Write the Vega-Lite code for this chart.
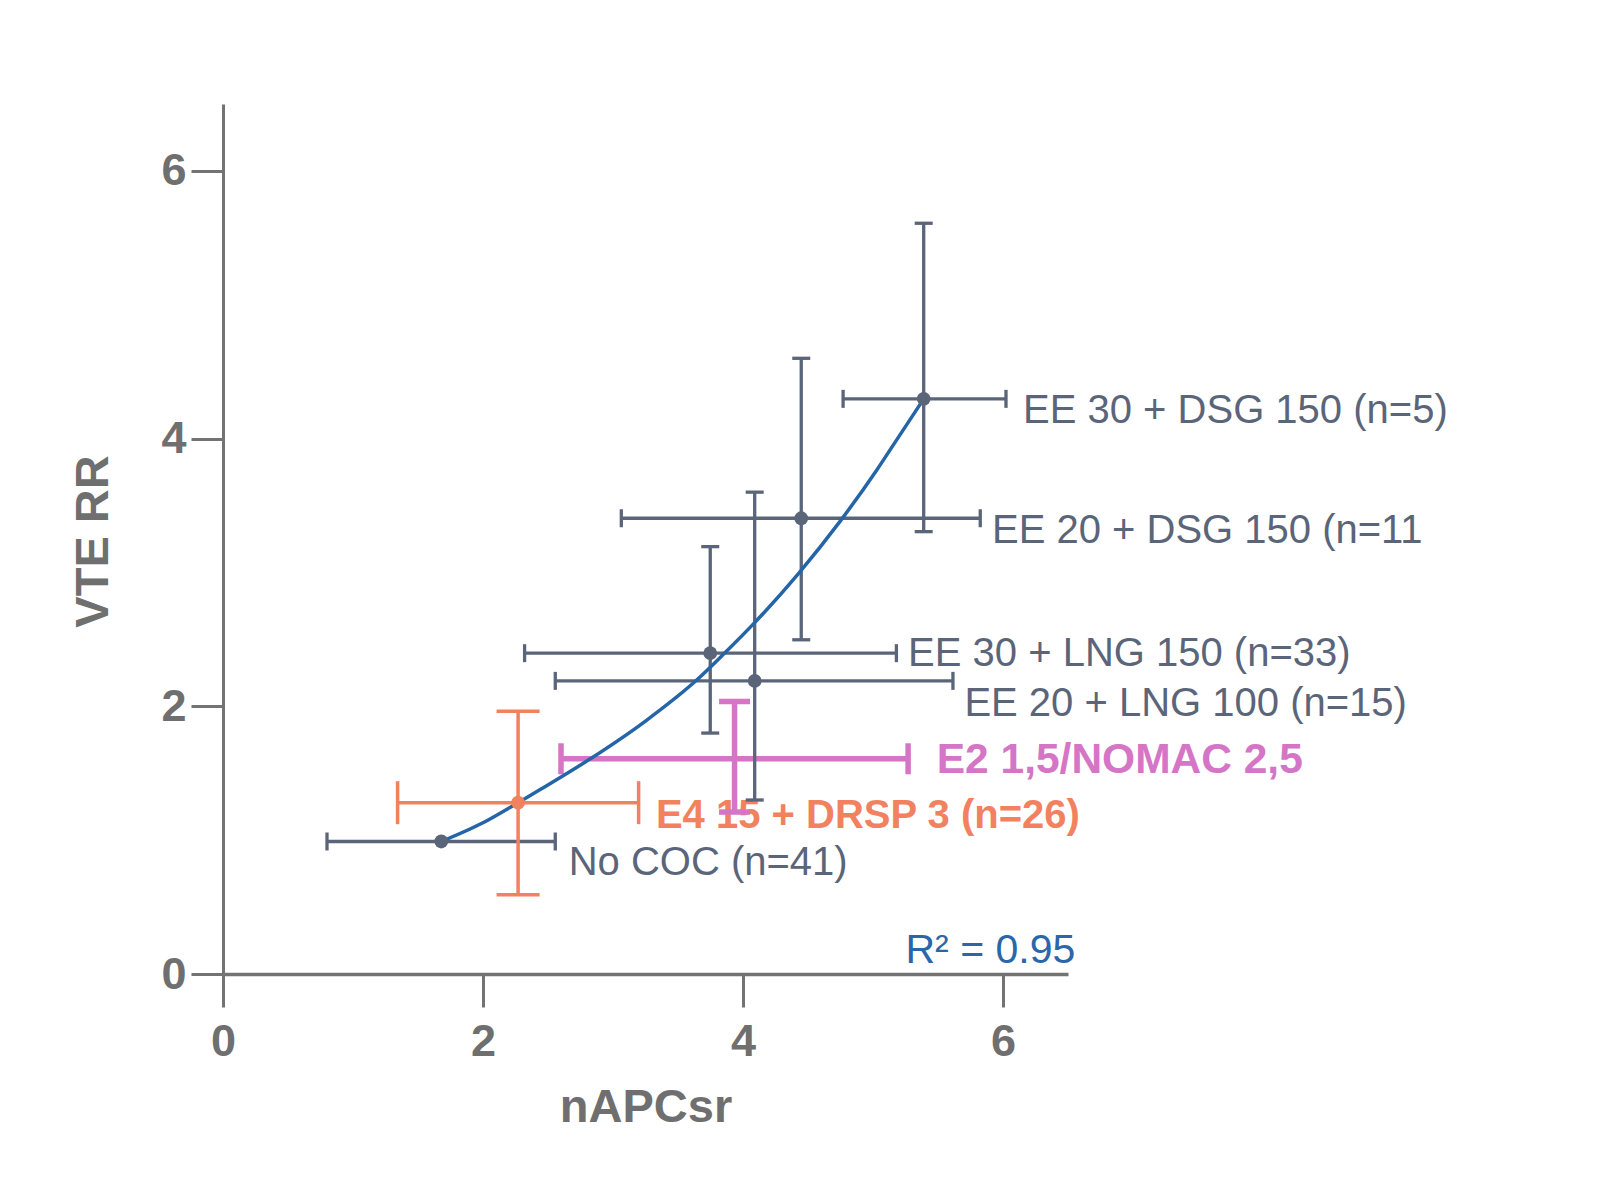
{
  "$schema": "https://vega.github.io/schema/vega-lite/v6.json",
  "width": 845,
  "height": 870,
  "autosize": "none",
  "padding": {"left": 223, "top": 104, "right": 553, "bottom": 211},
  "background": "white",
  "config": {
    "view": {"stroke": null},
    "font": "Liberation Sans",
    "axis": {
      "grid": false,
      "domainColor": "#737373",
      "tickColor": "#737373",
      "labelColor": "#6f6f6f",
      "titleColor": "#6f6f6f",
      "labelFont": "Liberation Sans",
      "titleFont": "Liberation Sans",
      "labelFontWeight": "bold",
      "titleFontWeight": "bold",
      "labelFontSize": 45,
      "titleFontSize": 47,
      "tickWidth": 3,
      "labelFlush": false,
      "labelOverlap": false
    },
    "axisX": {"domainWidth": 3.5, "tickSize": 33, "labelPadding": 12},
    "axisY": {"domainWidth": 3, "tickSize": 32, "labelPadding": 5}
  },
  "datasets": {
    "groups": [
      {"label": "No COC (n=41)", "group": "gray", "x": 1.679, "y": 0.99, "xlo": 0.80, "xhi": 2.556, "ylo": null, "yhi": null, "lx": 2.659, "ly": 0.742},
      {"label": "E4 15 + DRSP 3 (n=26)", "group": "orange", "x": 2.27, "y": 1.28, "xlo": 1.343, "xhi": 3.197, "ylo": 0.592, "yhi": 1.964, "lx": 3.33, "ly": 1.09},
      {"label": "E2 1,5/NOMAC 2,5", "group": "pink", "x": 3.935, "y": 1.608, "xlo": 2.60, "xhi": 5.27, "ylo": 1.21, "yhi": 2.036, "lx": 5.49, "ly": 1.50},
      {"label": "EE 20 + LNG 100 (n=15)", "group": "gray", "x": 4.09, "y": 2.19, "xlo": 2.556, "xhi": 5.615, "ylo": 1.30, "yhi": 3.60, "lx": 5.703, "ly": 1.925},
      {"label": "EE 30 + LNG 150 (n=33)", "group": "gray", "x": 3.748, "y": 2.397, "xlo": 2.32, "xhi": 5.18, "ylo": 1.80, "yhi": 3.193, "lx": 5.27, "ly": 2.302},
      {"label": "EE 20 + DSG 150 (n=11", "group": "gray", "x": 4.448, "y": 3.405, "xlo": 3.064, "xhi": 5.825, "ylo": 2.497, "yhi": 4.60, "lx": 5.915, "ly": 3.223},
      {"label": "EE 30 + DSG 150 (n=5)", "group": "gray", "x": 5.39, "y": 4.297, "xlo": 4.77, "xhi": 6.023, "ylo": 3.305, "yhi": 5.609, "lx": 6.154, "ly": 4.115}
    ],
    "curve": [
      {"x": 1.679, "y": 0.99},
      {"x": 2.0, "y": 1.13},
      {"x": 2.27, "y": 1.28},
      {"x": 2.44, "y": 1.378},
      {"x": 2.826, "y": 1.608},
      {"x": 3.25, "y": 1.89},
      {"x": 3.646, "y": 2.198},
      {"x": 3.851, "y": 2.39},
      {"x": 4.075, "y": 2.61},
      {"x": 4.425, "y": 2.99},
      {"x": 4.745, "y": 3.38},
      {"x": 5.032, "y": 3.77},
      {"x": 5.158, "y": 3.955},
      {"x": 5.39, "y": 4.297}
    ],
    "notes": [{"text": "R² = 0.95", "x": 6.556, "y": 0.082}]
  },
  "layer": [
    {
      "data": {"name": "groups"},
      "transform": [{"filter": "datum.group == 'orange'"}],
      "mark": {"type": "text", "align": "left", "baseline": "alphabetic", "fontWeight": "bold", "fontSize": 40, "font": "Liberation Sans", "color": "#f2815f"},
      "encoding": {
        "x": {"field": "lx", "type": "quantitative", "scale": {"domain": [0, 6.5], "nice": false, "zero": false},
          "axis": {"values": [0, 2, 4, 6], "format": "d", "title": "nAPCsr", "titleX": 422.5, "titleY": 147, "titleBaseline": "alphabetic", "titleAlign": "center"}},
        "y": {"field": "ly", "type": "quantitative", "scale": {"domain": [0, 6.5], "nice": false, "zero": false},
          "axis": {"values": [0, 2, 4, 6], "format": "d", "title": "VTE RR", "titleX": -116, "titleY": 437, "titleAngle": -90, "titleBaseline": "alphabetic", "titleAlign": "center"}},
        "text": {"field": "label", "type": "nominal"}
      }
    },
    {
      "data": {"name": "groups"},
      "transform": [{"filter": "datum.group == 'pink'"}],
      "mark": {"type": "text", "align": "left", "baseline": "alphabetic", "fontWeight": "bold", "fontSize": 42.5, "font": "Liberation Sans", "color": "#d575c6"},
      "encoding": {
        "x": {"field": "lx", "type": "quantitative", "title": "nAPCsr"},
        "y": {"field": "ly", "type": "quantitative", "title": "VTE RR"},
        "text": {"field": "label", "type": "nominal"}
      }
    },
    {
      "data": {"name": "groups"},
      "mark": {"type": "rule"},
      "encoding": {
        "x": {"field": "xlo", "type": "quantitative", "title": "nAPCsr"},
        "x2": {"field": "xhi"},
        "y": {"field": "y", "type": "quantitative", "title": "VTE RR"},
        "color": {"field": "group", "type": "nominal", "scale": {"domain": ["gray", "orange", "pink"], "range": ["#5b6579", "#f2815f", "#d575c6"]}, "legend": null},
        "strokeWidth": {"field": "group", "type": "nominal", "scale": {"type": "ordinal", "domain": ["gray", "orange", "pink"], "range": [3.3, 3.5, 5.5]}, "legend": null}
      }
    },
    {
      "data": {"name": "groups"},
      "transform": [{"filter": "datum.ylo != null"}],
      "mark": {"type": "rule"},
      "encoding": {
        "x": {"field": "x", "type": "quantitative", "title": "nAPCsr"},
        "y": {"field": "ylo", "type": "quantitative", "title": "VTE RR"},
        "y2": {"field": "yhi"},
        "color": {"field": "group", "type": "nominal", "scale": {"domain": ["gray", "orange", "pink"], "range": ["#5b6579", "#f2815f", "#d575c6"]}, "legend": null},
        "strokeWidth": {"field": "group", "type": "nominal", "scale": {"type": "ordinal", "domain": ["gray", "orange", "pink"], "range": [3.3, 3.5, 5.5]}, "legend": null}
      }
    },
    {
      "data": {"name": "groups"},
      "mark": {"type": "point", "shape": "M0,-1L0,1", "filled": false, "opacity": 1},
      "encoding": {
        "x": {"field": "xlo", "type": "quantitative", "title": "nAPCsr"},
        "y": {"field": "y", "type": "quantitative", "title": "VTE RR"},
        "color": {"field": "group", "type": "nominal", "scale": {"domain": ["gray", "orange", "pink"], "range": ["#5b6579", "#f2815f", "#d575c6"]}, "legend": null},
        "strokeWidth": {"field": "group", "type": "nominal", "scale": {"type": "ordinal", "domain": ["gray", "orange", "pink"], "range": [3.3, 3.5, 5.5]}, "legend": null},
        "size": {"field": "group", "type": "nominal", "scale": {"type": "ordinal", "domain": ["gray", "orange", "pink"], "range": [324, 1849, 961]}, "legend": null}
      }
    },
    {
      "data": {"name": "groups"},
      "mark": {"type": "point", "shape": "M0,-1L0,1", "filled": false, "opacity": 1},
      "encoding": {
        "x": {"field": "xhi", "type": "quantitative", "title": "nAPCsr"},
        "y": {"field": "y", "type": "quantitative", "title": "VTE RR"},
        "color": {"field": "group", "type": "nominal", "scale": {"domain": ["gray", "orange", "pink"], "range": ["#5b6579", "#f2815f", "#d575c6"]}, "legend": null},
        "strokeWidth": {"field": "group", "type": "nominal", "scale": {"type": "ordinal", "domain": ["gray", "orange", "pink"], "range": [3.3, 3.5, 5.5]}, "legend": null},
        "size": {"field": "group", "type": "nominal", "scale": {"type": "ordinal", "domain": ["gray", "orange", "pink"], "range": [324, 1849, 961]}, "legend": null}
      }
    },
    {
      "data": {"name": "groups"},
      "transform": [{"filter": "datum.ylo != null"}],
      "mark": {"type": "point", "shape": "M-1,0L1,0", "filled": false, "opacity": 1},
      "encoding": {
        "x": {"field": "x", "type": "quantitative", "title": "nAPCsr"},
        "y": {"field": "ylo", "type": "quantitative", "title": "VTE RR"},
        "color": {"field": "group", "type": "nominal", "scale": {"domain": ["gray", "orange", "pink"], "range": ["#5b6579", "#f2815f", "#d575c6"]}, "legend": null},
        "strokeWidth": {"field": "group", "type": "nominal", "scale": {"type": "ordinal", "domain": ["gray", "orange", "pink"], "range": [3.3, 3.5, 5.5]}, "legend": null},
        "size": {"field": "group", "type": "nominal", "scale": {"type": "ordinal", "domain": ["gray", "orange", "pink"], "range": [324, 1849, 961]}, "legend": null}
      }
    },
    {
      "data": {"name": "groups"},
      "transform": [{"filter": "datum.yhi != null"}],
      "mark": {"type": "point", "shape": "M-1,0L1,0", "filled": false, "opacity": 1},
      "encoding": {
        "x": {"field": "x", "type": "quantitative", "title": "nAPCsr"},
        "y": {"field": "yhi", "type": "quantitative", "title": "VTE RR"},
        "color": {"field": "group", "type": "nominal", "scale": {"domain": ["gray", "orange", "pink"], "range": ["#5b6579", "#f2815f", "#d575c6"]}, "legend": null},
        "strokeWidth": {"field": "group", "type": "nominal", "scale": {"type": "ordinal", "domain": ["gray", "orange", "pink"], "range": [3.3, 3.5, 5.5]}, "legend": null},
        "size": {"field": "group", "type": "nominal", "scale": {"type": "ordinal", "domain": ["gray", "orange", "pink"], "range": [324, 1849, 961]}, "legend": null}
      }
    },
    {
      "data": {"name": "curve"},
      "mark": {"type": "line", "interpolate": "monotone", "color": "#2465a8", "strokeWidth": 3.5},
      "encoding": {
        "x": {"field": "x", "type": "quantitative", "title": "nAPCsr"},
        "y": {"field": "y", "type": "quantitative", "title": "VTE RR"}
      }
    },
    {
      "data": {"name": "groups"},
      "transform": [{"filter": "datum.group != 'pink'"}],
      "mark": {"type": "circle", "opacity": 1, "size": 190},
      "encoding": {
        "x": {"field": "x", "type": "quantitative", "title": "nAPCsr"},
        "y": {"field": "y", "type": "quantitative", "title": "VTE RR"},
        "color": {"field": "group", "type": "nominal", "scale": {"domain": ["gray", "orange", "pink"], "range": ["#5b6579", "#f2815f", "#d575c6"]}, "legend": null}
      }
    },
    {
      "data": {"name": "groups"},
      "transform": [{"filter": "datum.group == 'gray'"}],
      "mark": {"type": "text", "align": "left", "baseline": "alphabetic", "fontSize": 40, "font": "Liberation Sans", "color": "#5b6579"},
      "encoding": {
        "x": {"field": "lx", "type": "quantitative", "title": "nAPCsr"},
        "y": {"field": "ly", "type": "quantitative", "title": "VTE RR"},
        "text": {"field": "label", "type": "nominal"}
      }
    },
    {
      "data": {"name": "notes"},
      "mark": {"type": "text", "align": "right", "baseline": "alphabetic", "fontSize": 41, "font": "Liberation Sans", "color": "#2b66a9"},
      "encoding": {
        "x": {"field": "x", "type": "quantitative", "title": "nAPCsr"},
        "y": {"field": "y", "type": "quantitative", "title": "VTE RR"},
        "text": {"field": "text", "type": "nominal"}
      }
    }
  ]
}
